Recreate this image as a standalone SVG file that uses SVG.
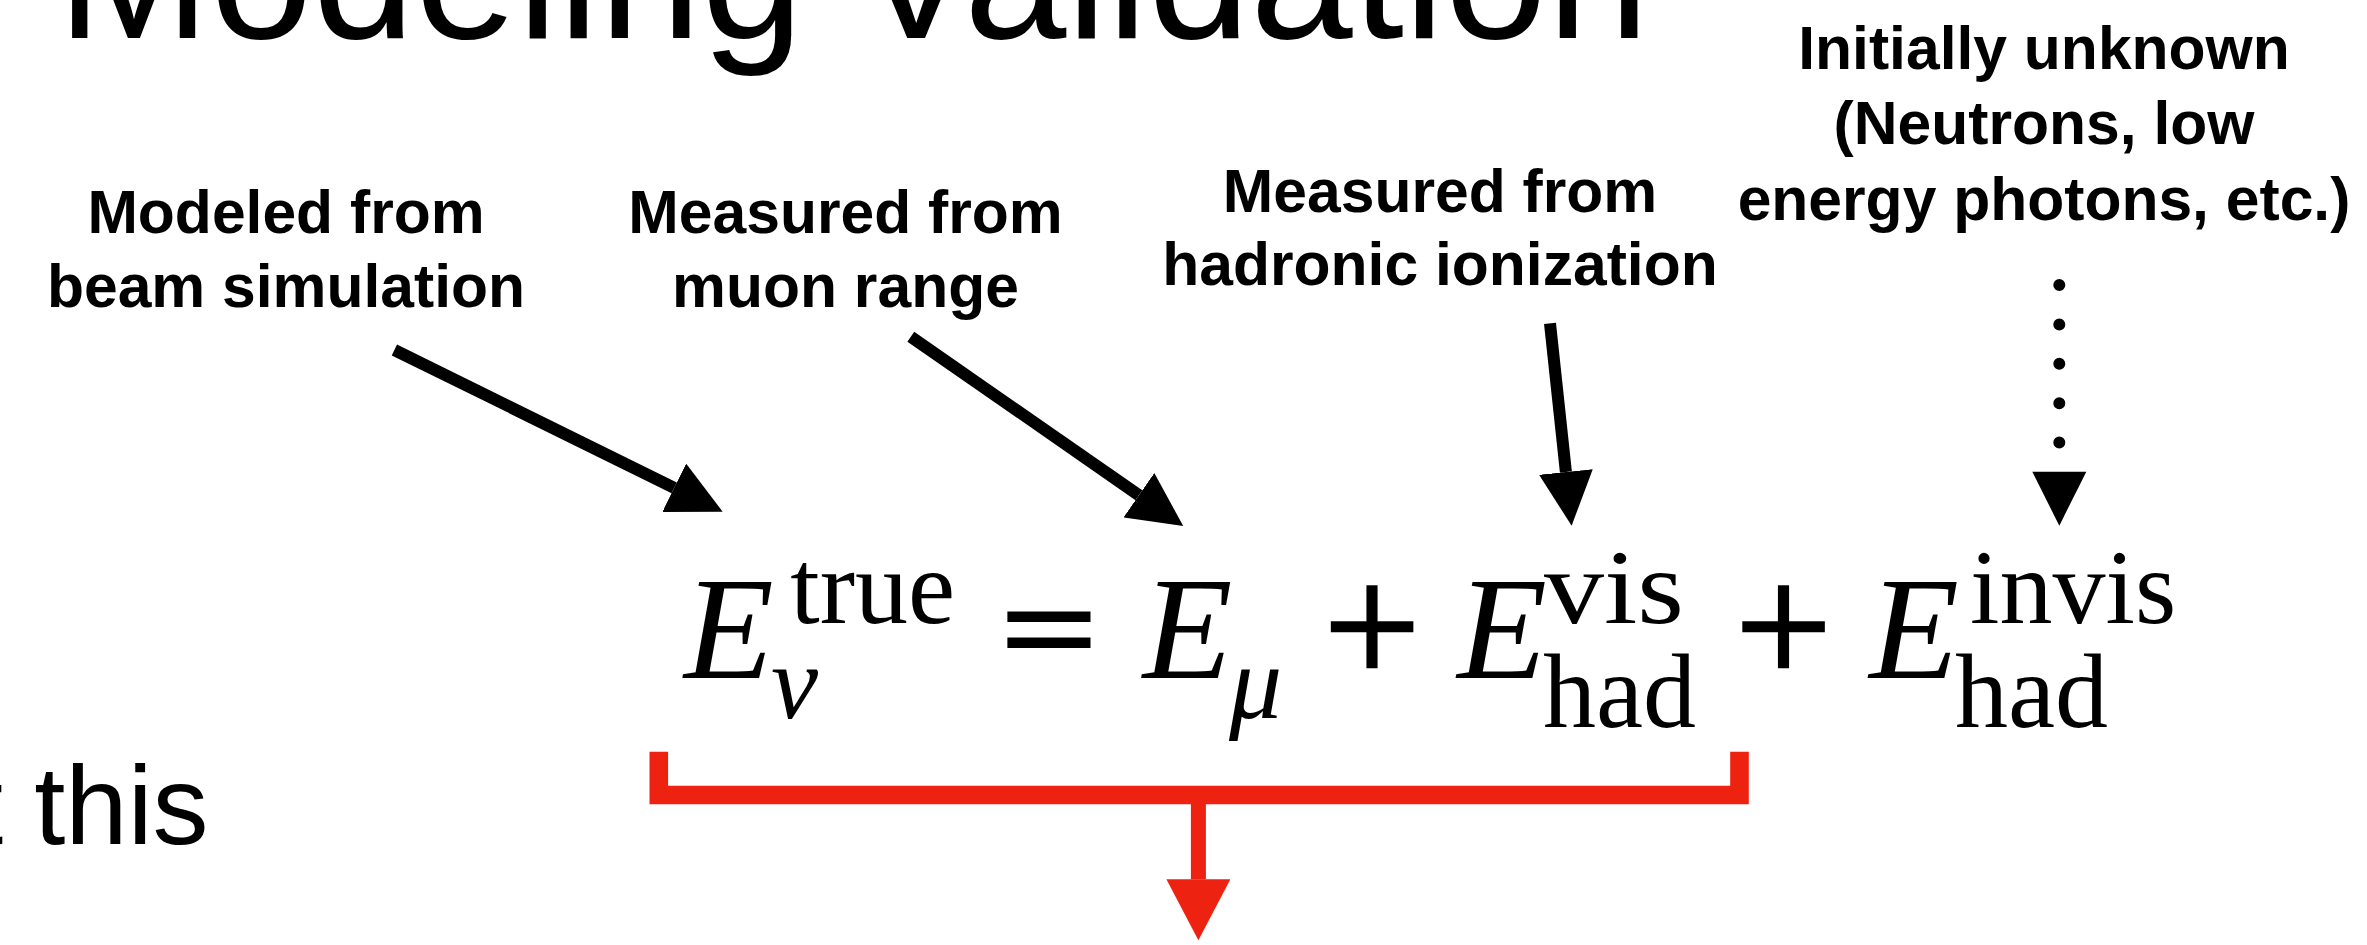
<svg xmlns="http://www.w3.org/2000/svg" width="2367" height="945" viewBox="0 0 2367 945">
<style>
  .sans { font-family: "Liberation Sans", Arial, Helvetica, sans-serif; fill: #000; }
  .title { font-size: 184px; }
  .body { font-size: 112px; }
  .lbl { font-size: 60.6px; font-weight: bold; text-anchor: middle; }
  .math { font-family: "Liberation Serif", "Times New Roman", Times, serif; fill: #000; }
  .it { font-style: italic; }
  .big { font-size: 147px; }
  .scr { font-size: 106px; }
  .op { font-size: 172px; stroke: #000; stroke-width: 2.5px; }
  .eq { font-size: 168px; stroke: #000; stroke-width: 5px; }
  .arrow { fill: none; stroke: #000; stroke-width: 12px; marker-end: url(#ah); }
  .dotted { fill: none; stroke: #000; stroke-width: 12px; stroke-linecap: round; stroke-dasharray: 0 39.4; marker-end: url(#ahGap); }
  .red { fill: none; stroke: #EE2211; }
</style>
<defs>
  <marker id="ah" markerUnits="userSpaceOnUse" viewBox="0 0 54 54" markerWidth="54" markerHeight="54" refX="0" refY="27" orient="auto">
    <path d="M0,0 L54,27 L0,54 z" fill="#000"/>
  </marker>
  <marker id="ahGap" markerUnits="userSpaceOnUse" viewBox="0 0 54 54" markerWidth="54" markerHeight="54" refX="-29" refY="27" orient="auto" overflow="visible">
    <path d="M0,0 L54,27 L0,54 z" fill="#000"/>
  </marker>
  <marker id="ahRed" markerUnits="userSpaceOnUse" viewBox="0 0 61 64" markerWidth="61" markerHeight="64" refX="0" refY="32" orient="auto">
    <path d="M0,0 L61,32 L0,64 z" fill="#EE2211"/>
  </marker>
</defs>
<rect x="0" y="0" width="2367" height="945" fill="#fff"/>

<g id="title">
  <text class="sans title" x="57" y="38">Modeling Validation</text>
</g>

<g id="body-text">
  <text class="sans body" x="-28" y="844">t this</text>
</g>

<g id="label-beam">
  <text class="sans lbl" x="286" y="233">Modeled from</text>
  <text class="sans lbl" x="286" y="307">beam simulation</text>
</g>

<g id="label-muon">
  <text class="sans lbl" x="845.5" y="233">Measured from</text>
  <text class="sans lbl" x="845.5" y="307">muon range</text>
</g>

<g id="label-hadronic">
  <text class="sans lbl" x="1440" y="212">Measured from</text>
  <text class="sans lbl" x="1440" y="285">hadronic ionization</text>
</g>

<g id="label-unknown">
  <text class="sans lbl" x="2044" y="68.5">Initially unknown</text>
  <text class="sans lbl" x="2044" y="144">(Neutrons, low</text>
  <text class="sans lbl" x="2044" y="220">energy photons, etc.)</text>
</g>

<g id="eq-Enu-true">
  <text class="math it big" x="684" y="678">E</text>
  <text class="math scr" x="790.3" y="623">true</text>
  <text class="math it scr" x="771" y="718">ν</text>
</g>

<g id="eq-equals">
  <g transform="translate(1001.5,673.4) scale(1,0.77)">
    <text class="math eq" x="0" y="0">=</text>
  </g>
</g>

<g id="eq-Emu">
  <text class="math it big" x="1142.7" y="678">E</text>
  <text class="math it scr" x="1229" y="718">μ</text>
</g>

<g id="eq-plus1">
  <text class="math op" x="1323.4" y="684">+</text>
</g>

<g id="eq-Ehad-vis">
  <text class="math it big" x="1457.3" y="678">E</text>
  <text class="math scr" x="1544" y="623" textLength="140" lengthAdjust="spacingAndGlyphs">vis</text>
  <text class="math scr" x="1543" y="727">had</text>
</g>

<g id="eq-plus2">
  <text class="math op" x="1735.1" y="684">+</text>
</g>

<g id="eq-Ehad-invis">
  <text class="math it big" x="1869.3" y="678">E</text>
  <text class="math scr" x="1970" y="623">invis</text>
  <text class="math scr" x="1955" y="727">had</text>
</g>

<g id="connectors">
  <line class="arrow" x1="394.4" y1="350" x2="674.2" y2="487.8"/>
  <line class="arrow" x1="910.8" y1="336.7" x2="1138.9" y2="495.2"/>
  <line class="arrow" x1="1550" y1="323.3" x2="1565.9" y2="472"/>
  <line class="dotted" x1="2059.3" y1="285" x2="2059.3" y2="442.7"/>
  <path class="red" stroke-width="18.6" stroke-linejoin="miter" d="M658.8,751.7 V795 H1739.5 V751.7"/>
  <line class="red" stroke-width="15" x1="1198.4" y1="804" x2="1198.4" y2="879.3" marker-end="url(#ahRed)"/>
</g>
</svg>
